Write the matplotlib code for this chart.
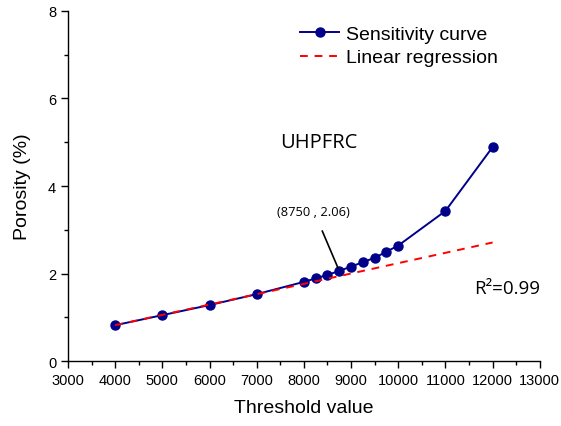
import matplotlib
matplotlib.use("Agg")
import matplotlib.pyplot as plt
from matplotlib.ticker import MultipleLocator

thresholds = [4000, 5000, 6000, 7000, 8000, 8250, 8500, 8750, 9000, 9250, 9500, 9750, 10000, 11000, 12000]
porosity = [0.82, 1.05, 1.28, 1.53, 1.81, 1.89, 1.97, 2.06, 2.16, 2.26, 2.36, 2.50, 2.64, 3.43, 4.89]
reg_x = [4000, 12000]
reg_y = [0.82, 2.71]
annot_point = (8750, 2.06)
x_ticks = [3000, 4000, 5000, 6000, 7000, 8000, 9000, 10000, 11000, 12000, 13000]
y_ticks = [0, 2, 4, 6, 8]

plt.rcParams['font.family'] = ['Liberation Sans', 'DejaVu Sans']

fig = plt.figure(figsize=(5.61, 4.27), dpi=100)
ax = fig.add_axes([0.1212, 0.152, 0.841, 0.82])

ax.plot(thresholds, porosity, color='#00008B', lw=1.4, marker='o', ms=6.5,
        label='Sensitivity curve', zorder=3)
ax.plot(reg_x, reg_y, color='red', lw=1.4, ls=(0, (4, 3.5)), label='Linear regression', zorder=4)

ax.set_xlim(3000, 13000)
ax.set_ylim(0, 8)
ax.set_xticks(x_ticks)
ax.set_yticks(y_ticks)
ax.xaxis.set_minor_locator(MultipleLocator(500))
ax.yaxis.set_minor_locator(MultipleLocator(1))
ax.tick_params(which='major', direction='out', length=5, width=1, labelsize=10.5)
ax.tick_params(which='minor', direction='out', length=3, width=1)
for s in ['top', 'right']:
    ax.spines[s].set_visible(False)
for s in ['left', 'bottom']:
    ax.spines[s].set_linewidth(1)

ax.set_xlabel('Threshold value', fontsize=14, labelpad=9)
ax.set_ylabel('Porosity (%)', fontsize=14, labelpad=12)

leg = ax.legend(loc='upper left', bbox_to_anchor=(0.466, 0.995), frameon=False, fontsize=14,
                handlelength=2.0, handletextpad=0.33, labelspacing=0.3, borderaxespad=0.25)

ax.text(7500, 5.0, 'UHPFRC', fontsize=14.5, family=['Open Sans', 'DejaVu Sans'], ha='left', va='center')
ax.text(13000, 1.67, 'R²=0.99', fontsize=13.5, family=['Open Sans', 'DejaVu Sans'], ha='right', va='center')
ax.annotate('(8750 , 2.06)', xy=annot_point, xytext=(7440, 3.42),
            fontsize=9.3, family=['Open Sans', 'DejaVu Sans'], ha='left', va='center',
            arrowprops=dict(arrowstyle='-', color='black', lw=1.2,
                            shrinkA=8, shrinkB=2))

fig.savefig('out.png', dpi=100)
